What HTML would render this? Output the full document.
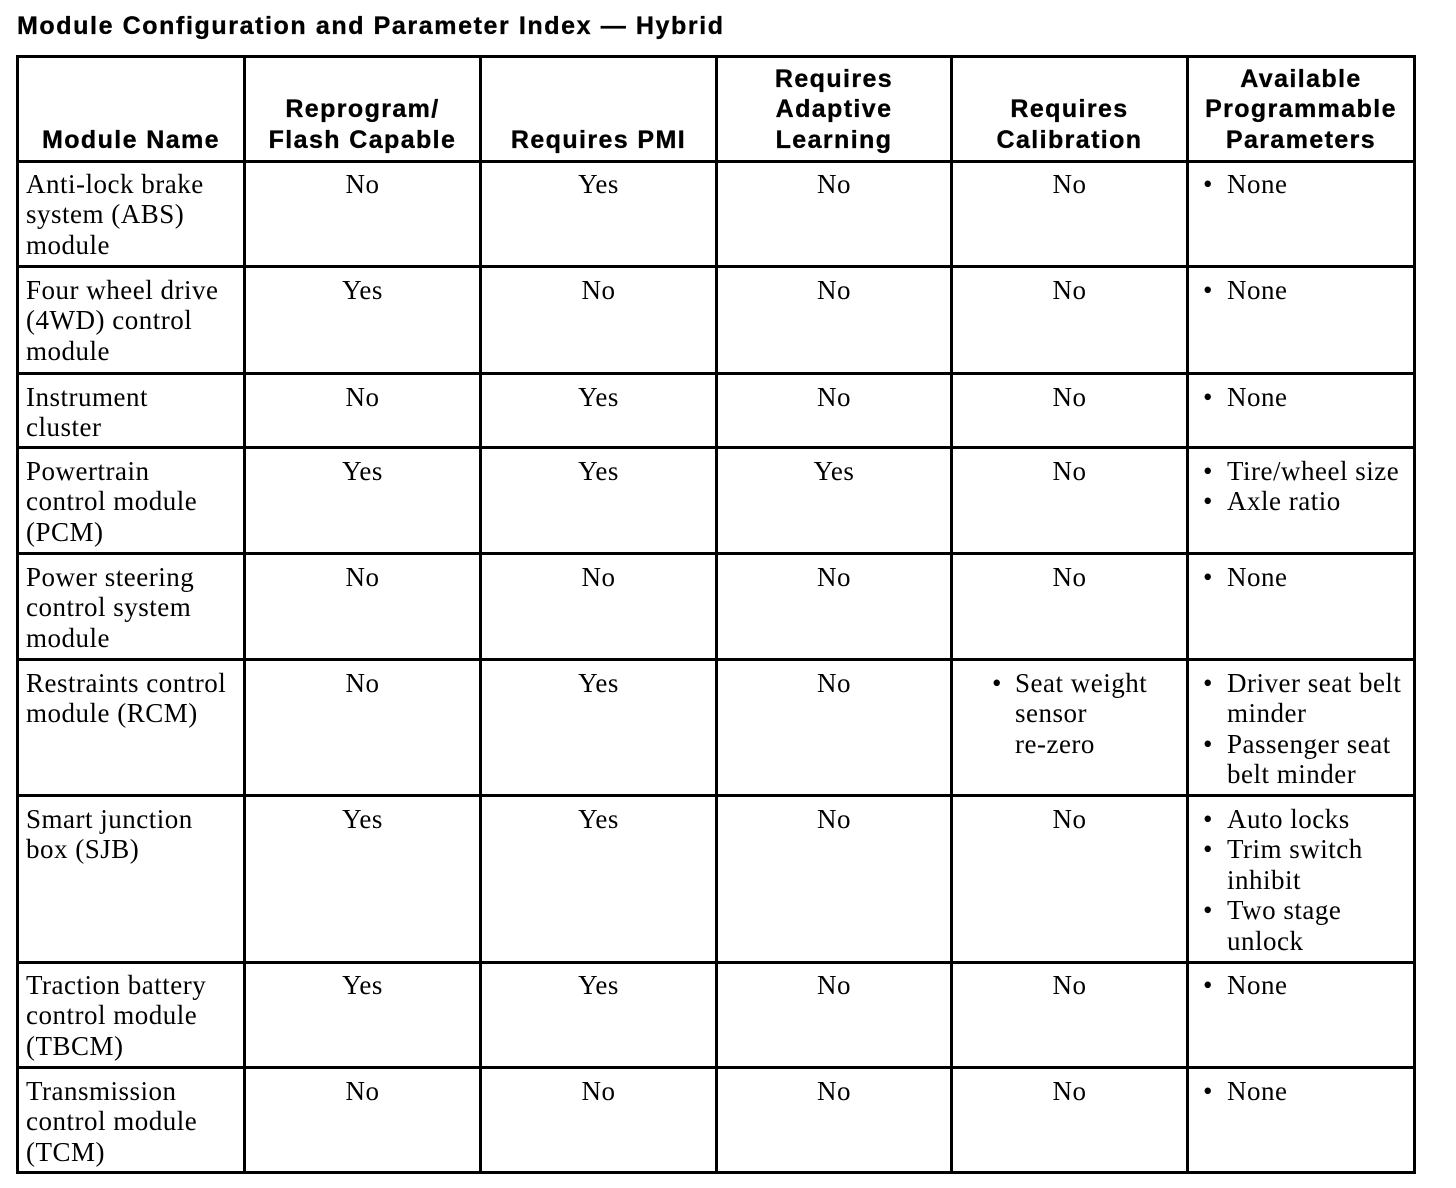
<!DOCTYPE html>
<html>
<head>
<meta charset="utf-8">
<style>
html,body{margin:0;padding:0;background:#fff;}
body{width:1456px;height:1188px;position:relative;overflow:hidden;color:#000;}
.h{position:absolute;height:3px;background:#000;left:16px;width:1400px;}
.v{position:absolute;width:3px;background:#000;top:55px;height:1119px;}
.t{position:absolute;font-family:"Liberation Serif","Times New Roman",serif;font-size:27px;line-height:30.5px;letter-spacing:0.5px;white-space:nowrap;margin-top:1.5px;}
.c{text-align:center;}
.hd{position:absolute;font-family:"Liberation Sans",Arial,sans-serif;font-weight:bold;font-size:25px;line-height:30.5px;letter-spacing:1.4px;text-align:center;white-space:nowrap;-webkit-text-stroke:0.35px #000;}
.title{position:absolute;left:17px;top:11px;font-family:"Liberation Sans",Arial,sans-serif;font-weight:bold;font-size:25px;line-height:30px;letter-spacing:1.6px;white-space:nowrap;-webkit-text-stroke:0.35px #000;}
.b{position:absolute;font-family:"Liberation Serif",serif;font-size:27px;line-height:30.5px;margin-top:1.5px;margin-left:2px;}
</style>
</head>
<body>
<div class="title">Module Configuration and Parameter Index — Hybrid</div>

<!-- horizontal lines -->
<div class="h" style="top:55px"></div>
<div class="h" style="top:160px"></div>
<div class="h" style="top:265px"></div>
<div class="h" style="top:372px"></div>
<div class="h" style="top:446px"></div>
<div class="h" style="top:552px"></div>
<div class="h" style="top:658px"></div>
<div class="h" style="top:794px"></div>
<div class="h" style="top:961px"></div>
<div class="h" style="top:1066px"></div>
<div class="h" style="top:1171px"></div>

<!-- vertical lines -->
<div class="v" style="left:16px"></div>
<div class="v" style="left:243px"></div>
<div class="v" style="left:479px"></div>
<div class="v" style="left:715px"></div>
<div class="v" style="left:950px"></div>
<div class="v" style="left:1186px"></div>
<div class="v" style="left:1413px"></div>

<!-- headers -->
<div class="hd" style="left:19px;width:224px;top:124.5px">Module Name</div>
<div class="hd" style="left:246px;width:233px;top:94px">Reprogram/<br>Flash Capable</div>
<div class="hd" style="left:482px;width:233px;top:124.5px">Requires PMI</div>
<div class="hd" style="left:718px;width:232px;top:63.5px">Requires<br>Adaptive<br>Learning</div>
<div class="hd" style="left:953px;width:233px;top:94px">Requires<br>Calibration</div>
<div class="hd" style="left:1189px;width:224px;top:63.5px">Available<br>Programmable<br>Parameters</div>

<!-- Row 1 (160) -->
<div class="t" style="left:26px;top:167px">Anti-lock brake<br>system (ABS)<br>module</div>
<div class="t c" style="left:246px;width:233px;top:167px">No</div>
<div class="t c" style="left:482px;width:233px;top:167px">Yes</div>
<div class="t c" style="left:718px;width:232px;top:167px">No</div>
<div class="t c" style="left:953px;width:233px;top:167px">No</div>
<div class="b" style="left:1201px;top:167px">•</div>
<div class="t" style="left:1227px;top:167px">None</div>

<!-- Row 2 (265) -->
<div class="t" style="left:26px;top:273px">Four wheel drive<br>(4WD) control<br>module</div>
<div class="t c" style="left:246px;width:233px;top:273px">Yes</div>
<div class="t c" style="left:482px;width:233px;top:273px">No</div>
<div class="t c" style="left:718px;width:232px;top:273px">No</div>
<div class="t c" style="left:953px;width:233px;top:273px">No</div>
<div class="b" style="left:1201px;top:273px">•</div>
<div class="t" style="left:1227px;top:273px">None</div>

<!-- Row 3 (372) -->
<div class="t" style="left:26px;top:380px">Instrument<br>cluster</div>
<div class="t c" style="left:246px;width:233px;top:380px">No</div>
<div class="t c" style="left:482px;width:233px;top:380px">Yes</div>
<div class="t c" style="left:718px;width:232px;top:380px">No</div>
<div class="t c" style="left:953px;width:233px;top:380px">No</div>
<div class="b" style="left:1201px;top:380px">•</div>
<div class="t" style="left:1227px;top:380px">None</div>

<!-- Row 4 (446) -->
<div class="t" style="left:26px;top:454px">Powertrain<br>control module<br>(PCM)</div>
<div class="t c" style="left:246px;width:233px;top:454px">Yes</div>
<div class="t c" style="left:482px;width:233px;top:454px">Yes</div>
<div class="t c" style="left:718px;width:232px;top:454px">Yes</div>
<div class="t c" style="left:953px;width:233px;top:454px">No</div>
<div class="b" style="left:1201px;top:454px">•</div>
<div class="t" style="left:1227px;top:454px">Tire/wheel size</div>
<div class="b" style="left:1201px;top:484.5px">•</div>
<div class="t" style="left:1227px;top:484.5px">Axle ratio</div>

<!-- Row 5 (552) -->
<div class="t" style="left:26px;top:560px">Power steering<br>control system<br>module</div>
<div class="t c" style="left:246px;width:233px;top:560px">No</div>
<div class="t c" style="left:482px;width:233px;top:560px">No</div>
<div class="t c" style="left:718px;width:232px;top:560px">No</div>
<div class="t c" style="left:953px;width:233px;top:560px">No</div>
<div class="b" style="left:1201px;top:560px">•</div>
<div class="t" style="left:1227px;top:560px">None</div>

<!-- Row 6 (658) -->
<div class="t" style="left:26px;top:666px">Restraints control<br>module (RCM)</div>
<div class="t c" style="left:246px;width:233px;top:666px">No</div>
<div class="t c" style="left:482px;width:233px;top:666px">Yes</div>
<div class="t c" style="left:718px;width:232px;top:666px">No</div>
<div class="b" style="left:990px;top:666px">•</div>
<div class="t" style="left:1015px;top:666px">Seat weight<br>sensor<br>re-zero</div>
<div class="b" style="left:1201px;top:666px">•</div>
<div class="t" style="left:1227px;top:666px">Driver seat belt<br>minder</div>
<div class="b" style="left:1201px;top:727px">•</div>
<div class="t" style="left:1227px;top:727px">Passenger seat<br>belt minder</div>

<!-- Row 7 (794) -->
<div class="t" style="left:26px;top:802px">Smart junction<br>box (SJB)</div>
<div class="t c" style="left:246px;width:233px;top:802px">Yes</div>
<div class="t c" style="left:482px;width:233px;top:802px">Yes</div>
<div class="t c" style="left:718px;width:232px;top:802px">No</div>
<div class="t c" style="left:953px;width:233px;top:802px">No</div>
<div class="b" style="left:1201px;top:802px">•</div>
<div class="t" style="left:1227px;top:802px">Auto locks</div>
<div class="b" style="left:1201px;top:832.5px">•</div>
<div class="t" style="left:1227px;top:832.5px">Trim switch<br>inhibit</div>
<div class="b" style="left:1201px;top:893.5px">•</div>
<div class="t" style="left:1227px;top:893.5px">Two stage<br>unlock</div>

<!-- Row 8 (961) -->
<div class="t" style="left:26px;top:968px">Traction battery<br>control module<br>(TBCM)</div>
<div class="t c" style="left:246px;width:233px;top:968px">Yes</div>
<div class="t c" style="left:482px;width:233px;top:968px">Yes</div>
<div class="t c" style="left:718px;width:232px;top:968px">No</div>
<div class="t c" style="left:953px;width:233px;top:968px">No</div>
<div class="b" style="left:1201px;top:968px">•</div>
<div class="t" style="left:1227px;top:968px">None</div>

<!-- Row 9 (1066) -->
<div class="t" style="left:26px;top:1074px">Transmission<br>control module<br>(TCM)</div>
<div class="t c" style="left:246px;width:233px;top:1074px">No</div>
<div class="t c" style="left:482px;width:233px;top:1074px">No</div>
<div class="t c" style="left:718px;width:232px;top:1074px">No</div>
<div class="t c" style="left:953px;width:233px;top:1074px">No</div>
<div class="b" style="left:1201px;top:1074px">•</div>
<div class="t" style="left:1227px;top:1074px">None</div>
</body>
</html>
